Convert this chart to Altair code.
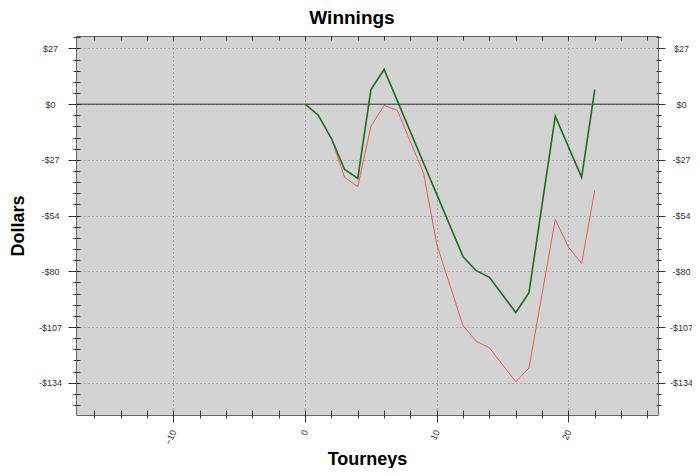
import altair as alt
import pandas as pd

# ---- data ----
tourneys = list(range(23))
winnings_green = [0, -5.3, -16.5, -31.4, -35.7, 7.0, 16.7, 1.7, -13.3, -28.4, -43.4, -58.4,
                  -73.4, -80.1, -83.3, -91.8, -100.2, -90.7, -48.2, -5.8, -20.5, -35.2, 7.0]
winnings_red = [0, -5.3, -16.5, -35.2, -39.7, -10.6, -0.6, -2.9, -18.1, -33.3, -67.5, -87.2,
                -106.6, -114.0, -117.2, -125.4, -133.5, -126.9, -91.1, -55.4, -68.8, -76.6, -41.3]
zero_level = [0]

# ---- axis ticks ----
y_step = 26.8
y_tick_values = [round(k * y_step / 5, 4) for k in range(-27, 7)]
x_tick_values = list(range(-16, 27, 2))
x_domain = [-17.4, 26.8]
y_domain = [-149.5, 32.8]

FONT = "Liberation Sans"
LABEL_COLOR = "#333333"
major_y = f"abs(datum.value/{y_step} - round(datum.value/{y_step})) < 0.01"
major_x = "datum.value % 10 == 0"
y_label = f"{major_y} ? (datum.value < -0.01 ? '-$' : '$') + format(abs(datum.value), '.0f') : ''"
x_label = f"{major_x} ? format(datum.value, 'd') : ''"

green_df = pd.DataFrame({"tourney": tourneys, "dollars": winnings_green})
red_df = pd.DataFrame({"tourney": tourneys, "dollars": winnings_red})
zero_df = pd.DataFrame({"level": zero_level})

x_scale = alt.Scale(domain=x_domain, nice=False, zero=False)
y_scale = alt.Scale(domain=y_domain, nice=False, zero=False)

left_axis = alt.Axis(
    orient="left", values=y_tick_values, labelExpr=y_label, offset=-4, domain=False,
    tickSize={"condition": {"test": major_y, "value": 12}, "value": 7},
    tickColor="#333333", labelPadding=18, labelAlign="center", labelBaseline="middle",
    labelFont=FONT, labelFontSize=9, labelColor=LABEL_COLOR, labelOverlap=False, labelFlush=False,
    grid=True, gridColor="#777777", gridDash=[1, 3],
    gridOpacity={"condition": {"test": major_y, "value": 1}, "value": 0},
    title="Dollars", titleFont=FONT, titleFontSize=18, titleFontWeight="bold", titleColor="#000000",
    titleX=-62, titleY=189.5, titleBaseline="middle", titleAlign="center", titleAngle=270,
)
right_axis = alt.Axis(
    orient="right", values=y_tick_values, labelExpr=y_label, offset=-2, domain=False,
    tickSize={"condition": {"test": major_y, "value": 9}, "value": 5},
    tickColor="#333333", labelPadding=16, labelAlign="center", labelBaseline="middle",
    labelFont=FONT, labelFontSize=9, labelColor=LABEL_COLOR, labelOverlap=False, labelFlush=False,
    grid=False, title=None,
)
bottom_axis = alt.Axis(
    orient="bottom", values=x_tick_values, labelExpr=x_label, offset=-5, domain=False,
    tickSize={"condition": {"test": major_x, "value": 12}, "value": 8},
    tickColor="#333333", labelPadding=8, labelAngle=-65, labelAlign="right", labelBaseline="middle",
    labelFont=FONT, labelFontSize=9, labelColor=LABEL_COLOR, labelOverlap=False, labelFlush=False,
    grid=True, gridColor="#777777", gridDash=[1, 3],
    gridOpacity={"condition": {"test": major_x, "value": 1}, "value": 0},
    title="Tourneys", titleFont=FONT, titleFontSize=18, titleFontWeight="bold", titleColor="#000000",
    titleY=54, titleBaseline="alphabetic",
)
top_axis = alt.Axis(
    orient="top", values=x_tick_values, labels=False, offset=-4, domain=False,
    tickSize=4, tickColor="#333333", grid=False, title=None,
)

zero_rule = alt.Chart(zero_df).mark_rule(color="#333333", strokeWidth=1).encode(
    y=alt.Y("level:Q", scale=y_scale, axis=None)
)
red_line = alt.Chart(red_df).mark_line(color="#e85a5a", strokeWidth=1).encode(
    x=alt.X("tourney:Q", scale=x_scale, axis=top_axis),
    y=alt.Y("dollars:Q", scale=y_scale, axis=right_axis),
)
green_line = alt.Chart(green_df).mark_line(color="#1c6e1c", strokeWidth=1.6).encode(
    x=alt.X("tourney:Q", scale=x_scale, axis=bottom_axis),
    y=alt.Y("dollars:Q", scale=y_scale, axis=left_axis),
)

chart = (
    alt.layer(zero_rule, red_line, green_line)
    .resolve_scale(x="shared", y="shared")
    .resolve_axis(x="independent", y="independent")
    .properties(
        width=582, height=379,
        autosize=alt.AutoSizeParams(type="none"),
        padding={"left": 68, "top": 28, "right": 34, "bottom": 53},
        background="white",
        title=alt.Title("Winnings", font=FONT, fontSize=19, fontWeight="bold", color="#000000",
                        anchor="middle", frame="group", dx=-15, offset=5),
    )
    .configure_view(fill="#d3d3d3", stroke="#666666", strokeWidth=1)
)

chart.save("out.html", embed_options={"renderer": "svg", "actions": False})
